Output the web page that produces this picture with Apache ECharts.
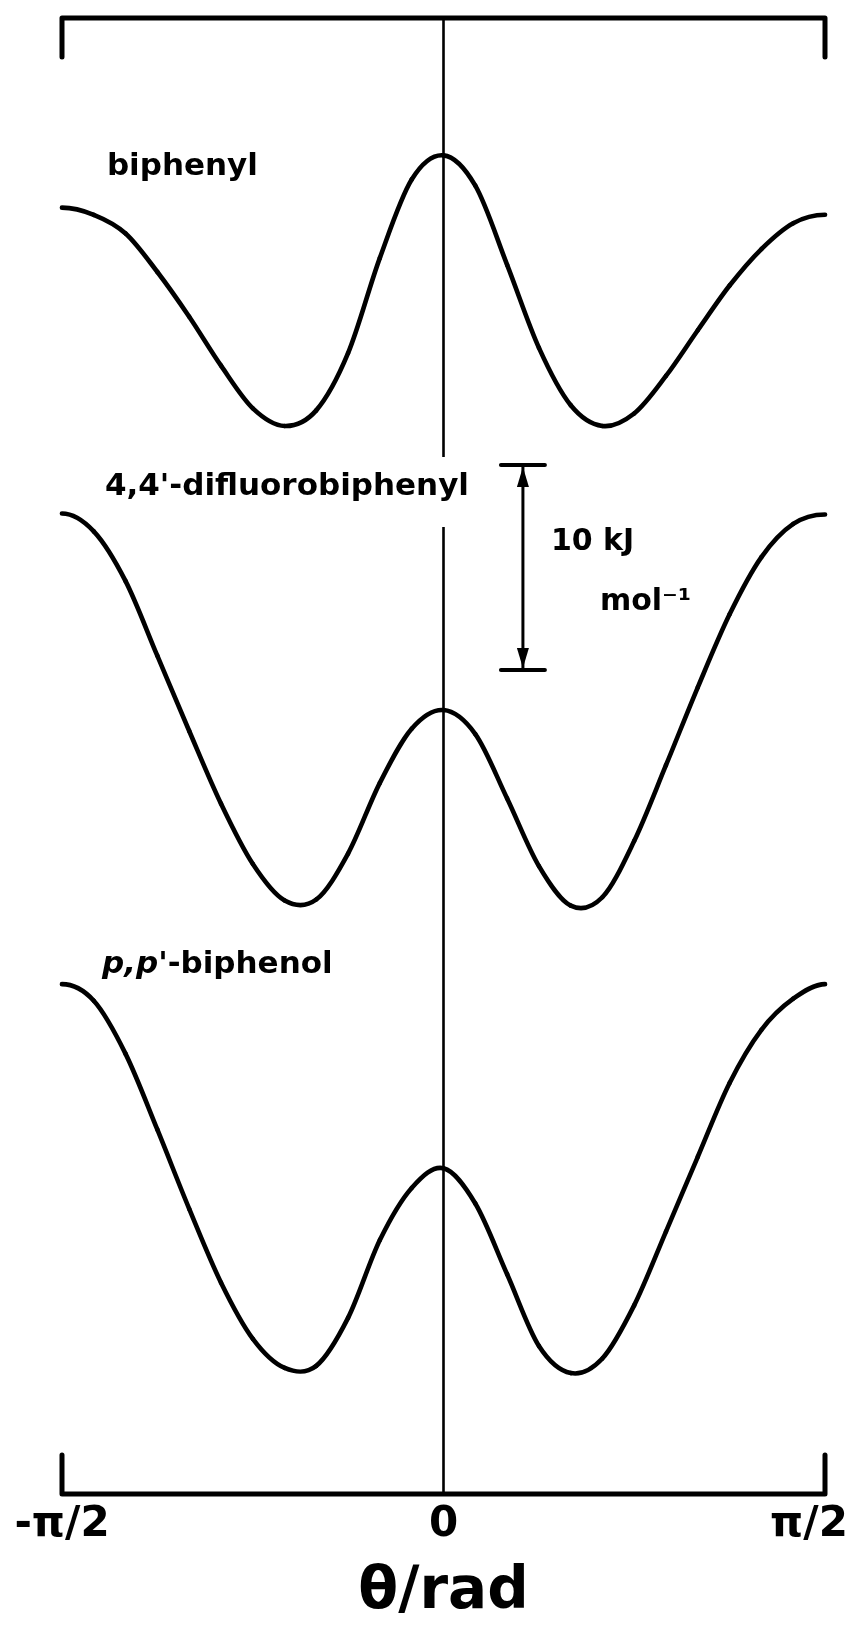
<!DOCTYPE html>
<html>
<head>
<meta charset="utf-8">
<title>Torsional potentials of biphenyls</title>
<script src="https://cdn.jsdelivr.net/npm/echarts@6/dist/echarts.min.js"></script>
<style>
  html, body { margin: 0; padding: 0; background: #ffffff; }
  #chart { width: 859px; height: 1631px; }
</style>
</head>
<body>
<div id="chart"></div>
<script>
// Torsion angle θ (rad), sampled every 7.5°
const theta = [
  -1.571, -1.440, -1.309, -1.178, -1.047, -0.916, -0.785, -0.654, -0.524, -0.393, -0.262, -0.131,
  0.000,
  0.131, 0.262, 0.393, 0.524, 0.654, 0.785, 0.916, 1.047, 1.178, 1.309, 1.440, 1.571
];
// Energy relative to each curve's own minimum (kJ mol⁻¹)
const energyBiphenyl = [
  10.65, 10.30, 9.39, 7.51, 5.33, 2.94, 0.86, 0.00, 0.76, 3.55, 8.20, 12.02,
  13.20,
  11.72, 7.86, 3.81, 1.01, 0.00, 0.61, 2.44, 4.67, 6.85, 8.63, 9.89, 10.30
];
const energyDifluorobiphenyl = [
  19.13, 18.26, 15.83, 12.18, 8.52, 4.97, 2.03, 0.25, 0.30, 2.54, 5.99, 8.63,
  9.54,
  8.37, 5.23, 1.93, 0.00, 0.41, 3.15, 6.85, 10.65, 14.21, 17.00, 18.62, 19.08
];
const energyBiphenol = [
  18.87, 18.06, 15.47, 11.77, 7.91, 4.31, 1.57, 0.15, 0.25, 2.59, 6.39, 8.93,
  9.89,
  8.17, 4.72, 1.22, -0.10, 0.61, 3.20, 6.80, 10.45, 14.05, 16.64, 18.16, 18.87
];

const curveNames = ['biphenyl', "4,4'-difluorobiphenyl", "p,p'-biphenol"];
const stackOffsets = [52.1, 28.7, 6.0];          // kJ mol⁻¹ shift that stacks the curves
const tickLabels = ['-π/2', '0', 'π/2'];
const scaleBarValue = 10;                          // kJ mol⁻¹

// ---- layout constants ----
const HALF_PI = Math.PI / 2;
const Y_MAX = 72;                // energy span of the frame
const BRACKET = 1.9;             // bracket tick length in energy units
const FONT = '"DejaVu Sans", Verdana, sans-serif';
const labelAnchors = [[-1.386, 64.72], [-1.394, 49.12], [-1.406, 25.80]];
const centerGap = [47.17, 50.59];                 // break in the θ = 0 line around a label
const scaleBarAt = { theta: 0.327, bottom: 40.2 };

const curves = [energyBiphenyl, energyDifluorobiphenyl, energyBiphenol];

// Catmull-Rom spline through pixel points, returned as cubic Bézier pieces.
// The potential is symmetric about ±π/2, so the ends are mirrored (flat tangent).
function splinePieces(pts) {
  const n = pts.length;
  const at = i => {
    if (i < 0) return [2 * pts[0][0] - pts[1][0], pts[1][1]];
    if (i > n - 1) return [2 * pts[n - 1][0] - pts[n - 2][0], pts[n - 2][1]];
    return pts[i];
  };
  const out = [];
  for (let i = 0; i < n - 1; i++) {
    const p0 = at(i - 1), p1 = at(i), p2 = at(i + 1), p3 = at(i + 2);
    out.push({
      x1: p1[0], y1: p1[1],
      cpx1: p1[0] + (p2[0] - p0[0]) / 6, cpy1: p1[1] + (p2[1] - p0[1]) / 6,
      cpx2: p2[0] - (p3[0] - p1[0]) / 6, cpy2: p2[1] - (p3[1] - p1[1]) / 6,
      x2: p2[0], y2: p2[1]
    });
  }
  return out;
}

const chart = echarts.init(document.getElementById('chart'), null, { renderer: 'canvas' });

const curveSeries = curves.map((energies, i) => {
  const data = energies.map((e, j) => [theta[j], e + stackOffsets[i]]);
  return {
    name: curveNames[i],
    type: 'custom',
    coordinateSystem: 'cartesian2d',
    encode: { x: 0, y: 1 },
    clip: false,
    silent: true,
    data: data,
    renderItem: (params, api) => {
      if (params.dataIndex !== 0) return null;
      const pts = data.map(p => api.coord(p));
      return {
        type: 'group',
        children: splinePieces(pts).map(seg => ({
          type: 'bezierCurve',
          shape: seg,
          style: { fill: null, stroke: '#000', lineWidth: 4.6, lineCap: 'round' }
        }))
      };
    },
    z: 3
  };
});

const frameStyle = { color: '#000', width: 5, cap: 'round', join: 'round' };

const option = {
  backgroundColor: '#ffffff',
  animation: false,
  grid: { left: 62, right: 34, top: 18, bottom: 137 },
  xAxis: {
    type: 'value',
    min: -HALF_PI,
    max: HALF_PI,
    interval: HALF_PI,
    axisLine: { show: false },
    axisTick: { show: false },
    splitLine: { show: false },
    axisLabel: {
      margin: 10,
      formatter: v => {
        const k = Math.round(v / HALF_PI) + 1;
        return k === 2 ? '{r|' + tickLabels[k] + '}' : '{t|' + tickLabels[k] + '}';
      },
      rich: {
        t: { fontSize: 42, fontWeight: 'bold', fontFamily: FONT, color: '#000' },
        r: { fontSize: 42, fontWeight: 'bold', fontFamily: FONT, color: '#000', padding: [0, 32, 0, 0] }
      }
    },
    name: 'θ/rad',
    nameLocation: 'middle',
    nameGap: 70,
    nameTextStyle: { fontSize: 58, fontWeight: 'bold', fontFamily: FONT, color: '#000' }
  },
  yAxis: {
    type: 'value',
    min: 0,
    max: Y_MAX,
    show: false
  },
  series: [
    ...curveSeries,
    {
      name: 'frame-top',
      type: 'line',
      data: [[-HALF_PI, Y_MAX - BRACKET], [-HALF_PI, Y_MAX], [HALF_PI, Y_MAX], [HALF_PI, Y_MAX - BRACKET]],
      symbol: 'none', clip: false, lineStyle: frameStyle, z: 2
    },
    {
      name: 'frame-bottom',
      type: 'line',
      data: [[-HALF_PI, BRACKET], [-HALF_PI, 0], [HALF_PI, 0], [HALF_PI, BRACKET]],
      symbol: 'none', clip: false, lineStyle: frameStyle, z: 2
    },
    {
      name: 'theta-zero',
      type: 'line',
      data: [[0, 0], [0, centerGap[0]], [0, null], [0, centerGap[1]], [0, Y_MAX]],
      connectNulls: false,
      symbol: 'none', clip: false,
      lineStyle: { color: '#000', width: 2.6 },
      z: 2
    },
    {
      name: 'curve-labels',
      type: 'scatter',
      symbolSize: 0,
      silent: true,
      itemStyle: { opacity: 1 },
      data: labelAnchors.map((a, i) => ({ value: a, name: curveNames[i] })),
      label: {
        show: true,
        position: 'right',
        distance: 0,
        color: '#000',
        opacity: 1,
        formatter: p => {
          const n = p.name;
          if (n.startsWith("p,p'")) return '{i|' + n.slice(0, 4) + '}{n|' + n.slice(4) + '}';
          return '{n|' + n + '}';
        },
        rich: {
          n: { fontSize: 31, fontWeight: 'bold', fontFamily: FONT, color: '#000' },
          i: { fontSize: 31, fontWeight: 'bold', fontStyle: 'italic', fontFamily: FONT, color: '#000' }
        }
      },
      z: 4
    },
    {
      name: 'scale-bar',
      type: 'custom',
      silent: true,
      clip: false,
      data: [[scaleBarAt.theta, scaleBarAt.bottom, scaleBarAt.bottom + scaleBarValue]],
      renderItem: (params, api) => {
        const lo = api.coord([api.value(0), api.value(1)]);
        const hi = api.coord([api.value(0), api.value(2)]);
        const x = lo[0];
        const capHalf = 22, headLen = 22, headHalf = 6;
        const stroke = { stroke: '#000', lineWidth: 3, lineCap: 'round' };
        const mid = (lo[1] + hi[1]) / 2;
        return {
          type: 'group',
          children: [
            { type: 'line', shape: { x1: x, y1: hi[1], x2: x, y2: lo[1] }, style: stroke },
            { type: 'line', shape: { x1: x - capHalf, y1: hi[1], x2: x + capHalf, y2: hi[1] }, style: Object.assign({}, stroke, { lineWidth: 4 }) },
            { type: 'line', shape: { x1: x - capHalf, y1: lo[1], x2: x + capHalf, y2: lo[1] }, style: Object.assign({}, stroke, { lineWidth: 4 }) },
            { type: 'polygon', shape: { points: [[x, hi[1] + 2], [x - headHalf, hi[1] + headLen], [x + headHalf, hi[1] + headLen]] }, style: { fill: '#000' } },
            { type: 'polygon', shape: { points: [[x, lo[1] - 2], [x - headHalf, lo[1] - headLen], [x + headHalf, lo[1] - headLen]] }, style: { fill: '#000' } },
            {
              type: 'text',
              x: x + 28, y: mid - 25,
              style: { text: scaleBarValue + ' kJ', fontSize: 30, fontWeight: 'bold', fontFamily: FONT, fill: '#000', verticalAlign: 'middle', align: 'left' }
            },
            {
              type: 'text',
              x: x + 77, y: mid + 35,
              style: { text: 'mol⁻¹', fontSize: 30, fontWeight: 'bold', fontFamily: FONT, fill: '#000', verticalAlign: 'middle', align: 'left' }
            }
          ]
        };
      },
      z: 4
    }
  ]
};

chart.setOption(option);
</script>
</body>
</html>
